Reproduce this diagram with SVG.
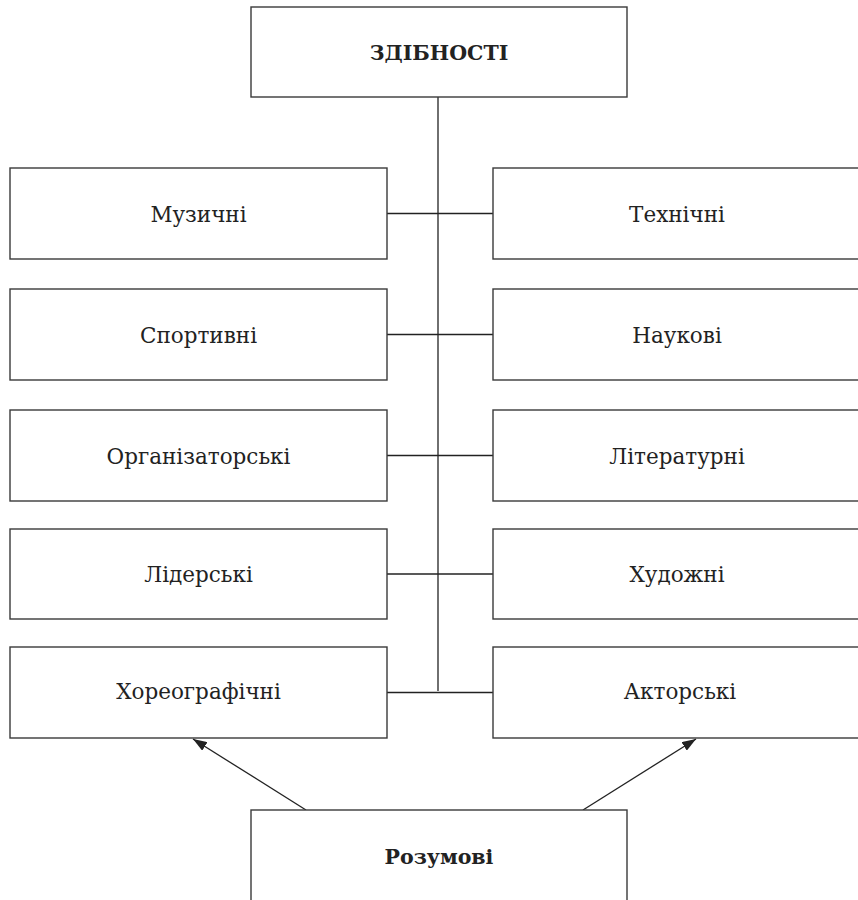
<svg xmlns="http://www.w3.org/2000/svg" width="858" height="900" viewBox="0 0 858 900">
  <style>
    .box { fill: #ffffff; stroke: #3a3a3a; stroke-width: 1.4; }
    .lbl { font-family: "DejaVu Serif", "Liberation Serif", serif; font-size: 21.5px; fill: #222222; text-anchor: middle; }
    .hdr { font-weight: bold; font-size: 20.5px; }
    .wire { stroke: #222222; stroke-width: 1.3; fill: none; }
    .arrow { stroke: #222222; stroke-width: 1.3; fill: none; marker-end: url(#head); }
  </style>
  <defs>
    <marker id="head" viewBox="0 0 14 10" refX="14" refY="5" markerWidth="14" markerHeight="10" markerUnits="userSpaceOnUse" orient="auto">
      <path d="M0,0 L14,5 L0,10 Z" fill="#222222"/>
    </marker>
  </defs>

  <rect width="858" height="900" fill="#ffffff"/>

  <!-- connectors -->
  <g id="connectors">
    <line class="wire" x1="438" y1="97" x2="438" y2="691"/>
    <line class="wire" x1="387" y1="213.5" x2="493" y2="213.5"/>
    <line class="wire" x1="387" y1="334.5" x2="493" y2="334.5"/>
    <line class="wire" x1="387" y1="455.5" x2="493" y2="455.5"/>
    <line class="wire" x1="387" y1="574" x2="493" y2="574"/>
    <line class="wire" x1="387" y1="692.5" x2="493" y2="692.5"/>
    <line class="arrow" x1="306" y1="810" x2="193" y2="739"/>
    <line class="arrow" x1="583" y1="810" x2="696" y2="739"/>
  </g>

  <!-- root -->
  <g id="zdibnosti">
    <rect class="box" x="251" y="7" width="376" height="90"/>
    <text class="lbl hdr" x="439" y="60">ЗДІБНОСТІ</text>
  </g>

  <!-- left column -->
  <g id="muzychni">
    <rect class="box" x="10" y="168" width="377" height="91"/>
    <text class="lbl" x="198.5" y="221.5">Музичні</text>
  </g>
  <g id="sportyvni">
    <rect class="box" x="10" y="289" width="377" height="91"/>
    <text class="lbl" x="198.5" y="342.5">Спортивні</text>
  </g>
  <g id="orhanizatorski">
    <rect class="box" x="10" y="410" width="377" height="91"/>
    <text class="lbl" x="198.5" y="463.5">Організаторські</text>
  </g>
  <g id="liderski">
    <rect class="box" x="10" y="529" width="377" height="90"/>
    <text class="lbl" x="198.5" y="582">Лідерські</text>
  </g>
  <g id="khoreohrafichni">
    <rect class="box" x="10" y="647" width="377" height="91"/>
    <text class="lbl" x="198.5" y="699">Хореографічні</text>
  </g>

  <!-- right column -->
  <g id="tekhnichni">
    <rect class="box" x="493" y="168" width="377" height="91"/>
    <text class="lbl" x="677" y="221.5">Технічні</text>
  </g>
  <g id="naukovi">
    <rect class="box" x="493" y="289" width="377" height="91"/>
    <text class="lbl" x="677" y="342.5">Наукові</text>
  </g>
  <g id="literaturni">
    <rect class="box" x="493" y="410" width="377" height="91"/>
    <text class="lbl" x="677" y="463.5">Літературні</text>
  </g>
  <g id="khudozhni">
    <rect class="box" x="493" y="529" width="377" height="90"/>
    <text class="lbl" x="677" y="582">Художні</text>
  </g>
  <g id="aktorski">
    <rect class="box" x="493" y="647" width="377" height="91"/>
    <text class="lbl" x="680" y="699">Акторські</text>
  </g>

  <!-- bottom -->
  <g id="rozumovi">
    <rect class="box" x="251" y="810" width="376" height="110"/>
    <text class="lbl hdr" x="439" y="864">Розумові</text>
  </g>
</svg>
